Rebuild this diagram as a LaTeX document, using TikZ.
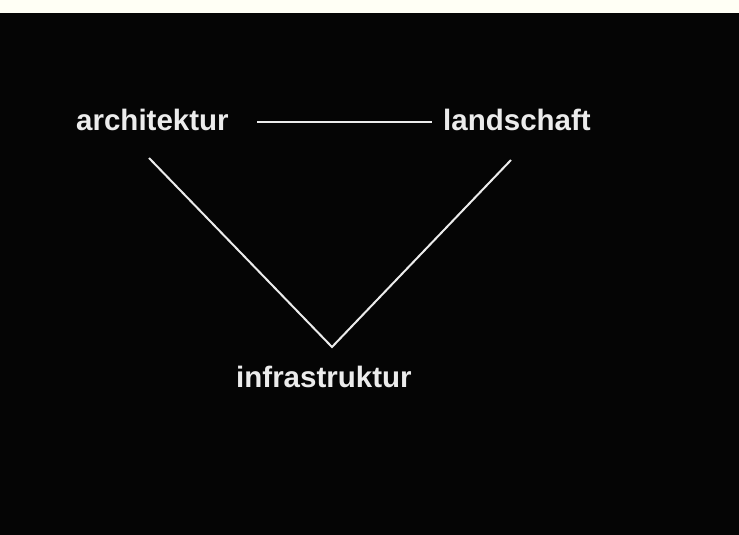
\documentclass[tikz,border=0pt]{standalone}
\usepackage{fontspec}
\setmainfont{Liberation Sans}
\definecolor{paper}{HTML}{FFFFF5}
\definecolor{board}{HTML}{050505}
\definecolor{chalk}{HTML}{ECECEC}
\begin{document}
\begin{tikzpicture}[x=1pt,y=-1pt,
  word/.style={text=chalk,inner sep=0pt,anchor=base west,
    font=\fontsize{29.5}{34}\selectfont\bfseries},
  rule/.style={draw=chalk,line width=2pt}]
  % page and board
  \fill[paper] (0,0) rectangle (739,13);
  \fill[board] (0,13) rectangle (739,535);
  \useasboundingbox (0,0) rectangle (739,535);
  % terms
  \node[word] (arch) at (76,130) {architektur};
  \node[word] (land) at (443,130) {landschaft};
  \node[word] (infra) at (236,387) {infrastruktur};
  % line ends
  \coordinate (hl) at (257,121.5);
  \coordinate (hr) at (432,121.5);
  \coordinate (dl) at (149,158);
  \coordinate (dr) at (511,160);
  \coordinate (apex) at (332,347);
  % connections
  \draw[rule] (hl) -- (hr);
  \draw[rule] (dl) -- (apex) -- (dr);
\end{tikzpicture}
\end{document}
